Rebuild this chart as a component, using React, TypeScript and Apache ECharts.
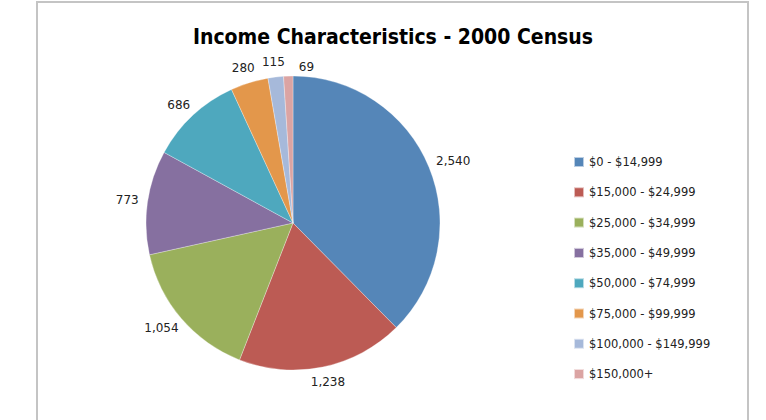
import React, { useEffect, useRef } from "react";
import * as echarts from "echarts";

const categories = [
  "$0 - $14,999",
  "$15,000 - $24,999",
  "$25,000 - $34,999",
  "$35,000 - $49,999",
  "$50,000 - $74,999",
  "$75,000 - $99,999",
  "$100,000 - $149,999",
  "$150,000+",
];
const values = [2540, 1238, 1054, 773, 686, 280, 115, 69];
const colors = ["#5586B8", "#BC5B54", "#9AB05C", "#8670A0", "#4EA8BE", "#E3974B", "#A6B9DA", "#DBA4A3"];
const title = "Income Characteristics - 2000 Census";

const CX = 293;
const CY = 223;
const R = 147;

export default function App() {
  const ref = useRef<HTMLDivElement>(null);
  useEffect(() => {
    const chart = echarts.init(ref.current!, null, { renderer: "svg" });
    const total = values.reduce((a, b) => a + b, 0);
    const mids: number[] = [];
    let acc = 0;
    values.forEach((v) => {
      mids.push(((acc + v / 2) / total) * Math.PI * 2);
      acc += v;
    });
    chart.setOption({
      animation: false,
      color: colors,
      title: {
        text: title,
        left: 388,
        textAlign: "center",
        top: 21,
        textStyle: {
          fontFamily: "'DejaVu Sans Condensed', sans-serif",
          fontWeight: "bold",
          fontSize: 21,
          color: "#000",
        },
      },
      graphic: [
        {
          type: "rect",
          shape: { x: 37, y: 2, width: 711, height: 430 },
          style: { fill: "none", stroke: "#c4c4c4", lineWidth: 2 },
          silent: true,
        },
      ],
      legend: {
        orient: "vertical",
        left: 573,
        top: 156,
        padding: 0,
        icon: "rect",
        itemWidth: 10,
        itemHeight: 10,
        itemGap: 18.3,
        itemTextGap: 3,
        data: categories,
        textStyle: { fontFamily: "'DejaVu Sans', sans-serif", fontSize: 11.5, lineHeight: 12, color: "#222" },
      },
      series: [
        {
          type: "pie",
          center: [CX, CY],
          radius: R,
          startAngle: 90,
          clockwise: true,
          avoidLabelOverlap: false,
          itemStyle: { borderColor: "rgba(255,255,255,0.6)", borderWidth: 0.5 },
          label: {
            show: true,
            position: "outside",
            formatter: (p: any) => p.value.toLocaleString("en-US"),
            fontFamily: "'DejaVu Sans', sans-serif",
            fontSize: 12,
            color: "#222",
          },
          labelLine: { show: false, length: 8, length2: 0 },
          labelLayout: (p: any) => {
            const i = p.dataIndex;
            const a = mids[i];
            const dx = Math.sin(a);
            const dy = -Math.cos(a);
            const w = p.labelRect.width;
            const h = p.labelRect.height;
            const gap = 9;
            let x = CX + dx * (R + gap) + (w / 2) * dx;
            let y = CY + dy * (R + gap) + (h / 2) * dy;
            if (i === values.length - 1) {
              x += w / 2 + 11;
              y += 6;
            }
            return { x, y, align: "center", verticalAlign: "middle" };
          },
          emphasis: { disabled: true },
          data: categories.map((c, i) => ({ name: c, value: values[i] })),
        },
      ],
    });
    return () => chart.dispose();
  }, []);
  return <div ref={ref} style={{ position: "absolute", left: 0, top: 0, width: 766, height: 420 }} />;
}
